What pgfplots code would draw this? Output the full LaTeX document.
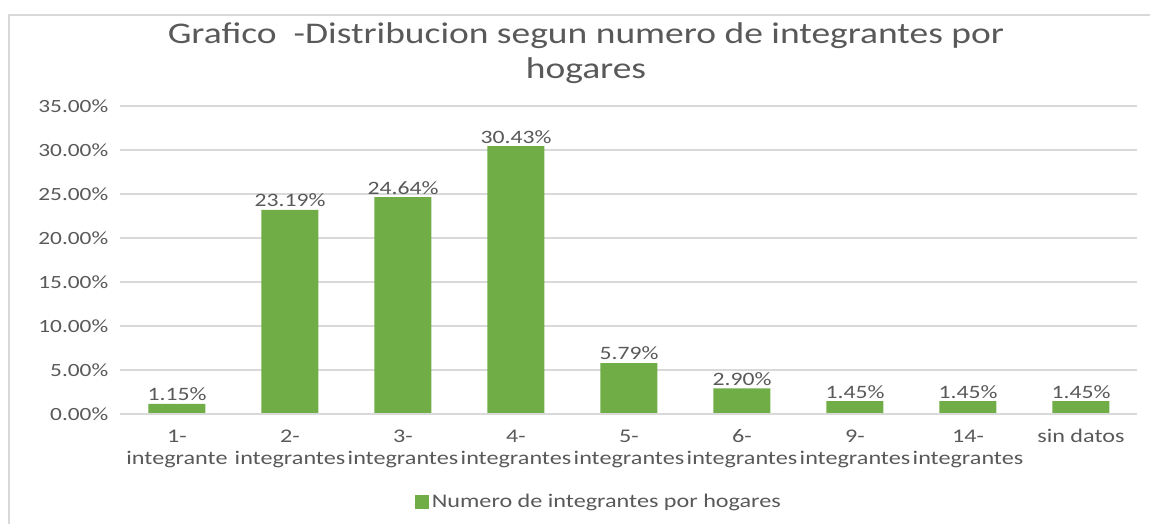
\documentclass[border=0pt]{standalone}
\usepackage{pgfplots}
\pgfplotsset{compat=1.18}
\usepackage{fontspec}
\setmainfont[FakeStretch=1.25]{Carlito}
\definecolor{bargreen}{HTML}{70AD47}
\definecolor{txt}{HTML}{595959}
\definecolor{gridc}{HTML}{D9D9D9}
\begin{document}
\begin{tikzpicture}
\path[use as bounding box] (-90.375pt,-82.5pt) rectangle (772.125pt,310.5pt);
\draw[gridc,line width=0.8pt] (-83.6pt,-82.5pt) -- (-83.6pt,299.25pt) -- (772.125pt,299.25pt);
\node[text=txt,align=center,font=\fontsize{22.5}{26.5}\selectfont] at (349.1pt,270.5pt) {Grafico\ \ -Distribucion segun numero de integrantes por\\hogares};
\begin{axis}[
  at={(0pt,0pt)}, anchor=south west,
  scale only axis, width=762.75pt, height=231pt,
  xmin=-0.5, xmax=8.5, ymin=0, ymax=35,
  ybar, bar width=42.75pt,
  axis line style={draw=none},
  axis x line*=bottom,
  ytick={0,5,...,35},
  ymajorgrids, grid style={gridc,line width=0.8pt},
  major tick length=0pt,
  xtick={0,...,8},
  xticklabels={{1-\strut\\integrante\strut},{2-\strut\\integrantes\strut},{3-\strut\\integrantes\strut},{4-\strut\\integrantes\strut},{5-\strut\\integrantes\strut},{6-\strut\\integrantes\strut},{9-\strut\\integrantes\strut},{14-\strut\\integrantes\strut},{sin datos\strut}},
  xticklabel style={align=center, anchor=north, inner sep=0pt, yshift=-9pt, text=txt, font=\fontsize{14.5}{17}\selectfont},
  yticklabel={\pgfmathprintnumber[fixed,fixed zerofill,precision=2]{\tick}\%},
  /pgf/number format/assume math mode=true,
  yticklabel style={anchor=east, inner sep=0pt, xshift=-9pt, text=txt, font=\fontsize{14}{16}\selectfont},
  nodes near coords={\pgfmathprintnumber[fixed,fixed zerofill,precision=2,assume math mode=true]{\pgfplotspointmeta}\%},
  nodes near coords style={text=txt, font=\fontsize{14.2}{16}\selectfont, inner sep=2pt},
  legend style={at={(0.4705,-0.2857)}, anchor=center, draw=none, font=\fontsize{14.5}{16}\selectfont, text=txt, inner sep=0pt},
  legend image code/.code={\fill[bargreen] (0pt,-5.5pt) rectangle (11pt,5.5pt);},
  clip=false,
]
\addplot[fill=bargreen, draw=none] coordinates {(0,1.15) (1,23.19) (2,24.64) (3,30.43) (4,5.79) (5,2.90) (6,1.45) (7,1.45) (8,1.45)};
\addlegendentry{Numero de integrantes por hogares}
\draw[gridc,line width=0.8pt] (rel axis cs:0,0) -- (rel axis cs:1,0);
\end{axis}
\end{tikzpicture}
\end{document}
